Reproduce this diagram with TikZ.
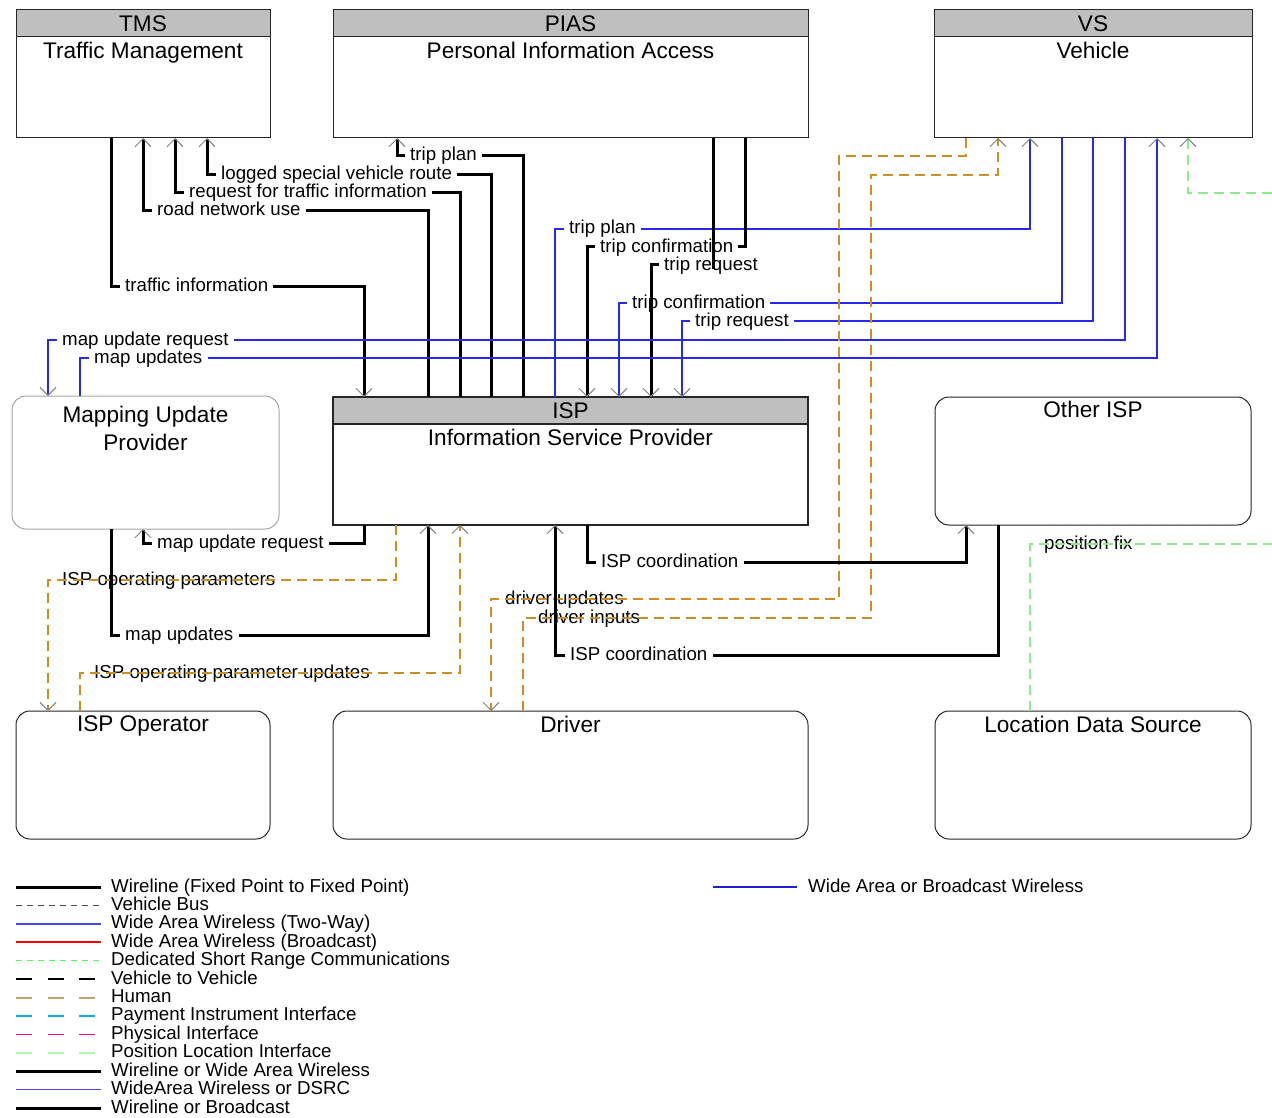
\documentclass[tikz,border=0pt]{standalone}
\usepackage{fontspec}
\setmainfont{Liberation Sans}
\usetikzlibrary{arrows.meta}
\definecolor{wablue}{RGB}{40,40,240}
\definecolor{humanc}{RGB}{204,142,32}
\definecolor{plgreen}{RGB}{140,236,140}
\definecolor{lgblue}{RGB}{70,70,255}
\definecolor{dsrcg}{RGB}{80,250,80}
\definecolor{humlg}{RGB}{196,164,110}
\definecolor{plglg}{RGB}{176,248,176}
\definecolor{wbblue}{RGB}{32,32,208}
\begin{document}
\begin{tikzpicture}[x=1pt,y=-1pt,line join=miter,
  ent/.style={draw=black!85,line width=1pt,anchor=north west,inner sep=0pt,outer sep=0pt},
  hdr/.style={ent,fill=gray!50,minimum height=27,font=\fontsize{22.6}{28}\selectfont},
  rnd/.style={ent,rounded corners=14pt,minimum height=128},
  ttl/.style={font=\fontsize{22.6}{28}\selectfont,anchor=north,inner sep=0pt,align=center},
  lbl/.style={font=\fontsize{18.7}{22}\selectfont,anchor=west,inner xsep=5pt,inner ysep=0pt,text height=13.5pt,text depth=3.5pt},
  wl/.style={line width=3pt},
  wa/.style={wablue,line width=1.2pt},
  hum/.style={humanc,line width=1.3pt,dash pattern=on 10pt off 6pt},
  pli/.style={plgreen,line width=1.3pt,dash pattern=on 10pt off 6pt},
  tohead/.style={-{Straight Barb[length=8pt,width=16pt,line width=1pt,color=gray]}},
  lwl/.style={line width=3pt},
  lvb/.style={black!70,line width=1.2pt,dash pattern=on 6pt off 5pt},
  lwa/.style={lgblue,line width=1.6pt},
  lwb/.style={red,line width=1.6pt},
  lds/.style={dsrcg,line width=1.5pt,dash pattern=on 6pt off 5pt},
  lvv/.style={line width=1.3pt,dash pattern=on 16pt off 15.5pt},
  lhu/.style={humlg,line width=2pt,dash pattern=on 16pt off 15.5pt},
  lpi/.style={cyan,line width=1.5pt,dash pattern=on 16pt off 15.5pt},
  lph/.style={magenta,line width=1.5pt,dash pattern=on 16pt off 15.5pt},
  lpl/.style={plglg,line width=1.5pt,dash pattern=on 16pt off 15.5pt}]
\useasboundingbox (0,0) rectangle (1272,1118);
% entities
\node[hdr,minimum width=254] (TMSh) at (16,10) {TMS};
\node[ent,minimum width=254,minimum height=101] (TMS) at (TMSh.south west) {};
\node[ttl] (TMSt) at ([yshift=-5pt]TMS.north) {Traffic Management};
\node[hdr,minimum width=475] (PIASh) at (333,10) {PIAS};
\node[ent,minimum width=475,minimum height=101] (PIAS) at (PIASh.south west) {};
\node[ttl] (PIASt) at ([yshift=-5pt]PIAS.north) {Personal Information Access};
\node[hdr,minimum width=318] (VSh) at (934,10) {VS};
\node[ent,minimum width=318,minimum height=101] (VS) at (VSh.south west) {};
\node[ttl] (VSt) at ([yshift=-5pt]VS.north) {Vehicle};
\node[rnd,draw=gray!70,minimum width=267,minimum height=133] (MUP) at (12,396) {};
\node[ttl] (MUPt) at ([yshift=-10pt]MUP.north) {Mapping Update\\Provider};
\node[hdr,minimum width=475,line width=2pt] (ISPh) at (333,397) {ISP};
\node[ent,minimum width=475,minimum height=101,line width=2pt] (ISP) at (ISPh.south west) {};
\node[ttl] (ISPt) at ([yshift=-5pt]ISP.north) {Information Service Provider};
\node[rnd,minimum width=316] (OISP) at (935,397) {};
\node[ttl] (OISPt) at ([yshift=-4pt]OISP.north) {Other ISP};
\node[rnd,minimum width=254] (ISPO) at (16,711) {};
\node[ttl] (ISPOt) at ([yshift=-5pt]ISPO.north) {ISP Operator};
\node[rnd,minimum width=475] (DRV) at (333,711) {};
\node[ttl] (DRVt) at ([yshift=-5pt]DRV.north) {Driver};
\node[rnd,minimum width=316] (LDS) at (935,711) {};
\node[ttl] (LDSt) at ([yshift=-5pt]LDS.north) {Location Data Source};
% flow labels
\node[lbl] (tiL) at (120,286) {traffic information};
\node[lbl] (rnuL) at (152,211) {road network use};
\node[lbl] (rftL) at (184,193) {request for traffic information};
\node[lbl] (lsvL) at (216,175) {logged special vehicle route};
\node[lbl] (tpL) at (405,156) {trip plan};
\node[lbl] (tp2L) at (564,229) {trip plan};
\node[lbl] (tcL) at (595,247) {trip confirmation};
\node[lbl] (trL) at (659,265) {trip request};
\node[lbl] (tc2L) at (627,303) {trip confirmation};
\node[lbl] (tr2L) at (690,321) {trip request};
\node[lbl] (murL) at (57,340) {map update request};
\node[lbl] (muL) at (89,358) {map updates};
\node[lbl] (mur2L) at (152,543) {map update request};
\node[lbl] (iopL) at (57,580) {ISP operating parameters};
\node[lbl] (mu2L) at (120,635) {map updates};
\node[lbl] (iopuL) at (89,673) {ISP operating parameter updates};
\node[lbl] (ic1L) at (596,562) {ISP coordination};
\node[lbl] (duL) at (500,599) {driver updates};
\node[lbl] (diL) at (533,618) {driver inputs};
\node[lbl] (ic2L) at (565,655) {ISP coordination};
\node[lbl] (pfL) at (1039,544) {position fix};
\coordinate (pfOut) at (1272,544);
\coordinate (pfIn) at (1272,193);
% flows
\draw[wl] (111,0 |- TMS.south) |- (tiL.west);
\draw[wl,tohead] (tiL.east) -| (364,0 |- ISPh.north);
\draw[wl] (428,0 |- ISPh.north) |- (rnuL.east);
\draw[wl,tohead] (rnuL.west) -| (143,0 |- TMS.south);
\draw[wl] (460,0 |- ISPh.north) |- (rftL.east);
\draw[wl,tohead] (rftL.west) -| (175,0 |- TMS.south);
\draw[wl] (491,0 |- ISPh.north) |- (lsvL.east);
\draw[wl,tohead] (lsvL.west) -| (207,0 |- TMS.south);
\draw[wl] (523,0 |- ISPh.north) |- (tpL.east);
\draw[wl,tohead] (tpL.west) -| (397,0 |- PIAS.south);
\draw[wa] (555,0 |- ISPh.north) |- (tp2L.west);
\draw[wa,tohead] (tp2L.east) -| (1030,0 |- VS.south);
\draw[wl] (745,0 |- PIAS.south) |- (tcL.east);
\draw[wl,tohead] (tcL.west) -| (587,0 |- ISPh.north);
\draw[wl] (713,0 |- PIAS.south) -- ([yshift=-4pt]713,0 |- trL.center);
\draw[wl,tohead] (trL.west) -| (651,0 |- ISPh.north);
\draw[wa] (1062,0 |- VS.south) |- (tc2L.east);
\draw[wa,tohead] (tc2L.west) -| (619,0 |- ISPh.north);
\draw[wa] (1093,0 |- VS.south) |- (tr2L.east);
\draw[wa,tohead] (tr2L.west) -| (682,0 |- ISPh.north);
\draw[wa] (1125,0 |- VS.south) |- (murL.east);
\draw[wa,tohead] (murL.west) -| (48,0 |- MUP.north);
\draw[wa] (80,0 |- MUP.north) |- (muL.west);
\draw[wa,tohead] (muL.east) -| (1157,0 |- VS.south);
\draw[hum,tohead] (966,0 |- VS.south) |- (839,156) |- (duL.east) -- (duL.west) -| (491,0 |- DRV.north);
\draw[hum,tohead] (523,0 |- DRV.north) |- (diL.west) -- (diL.east) -| (871,175) -| (998,0 |- VS.south);
\draw[pli,tohead] (pfIn) -| (1188,0 |- VS.south);
\draw[wl] (364,0 |- ISP.south) |- (mur2L.east);
\draw[wl,tohead] (mur2L.west) -| (143,0 |- MUP.south);
\draw[hum,tohead] (396,0 |- ISP.south) |- (iopL.east) -- (iopL.west) -| (48,0 |- ISPO.north);
\draw[wl] (111,0 |- MUP.south) |- (mu2L.west);
\draw[wl,tohead] (mu2L.east) -| (428,0 |- ISP.south);
\draw[hum,tohead] (80,0 |- ISPO.north) |- (iopuL.west) -- (iopuL.east) -| (460,0 |- ISP.south);
\draw[wl] (587,0 |- ISP.south) |- (ic1L.west);
\draw[wl,tohead] (ic1L.east) -| (966,0 |- OISP.south);
\draw[wl] (998,0 |- OISP.south) |- (ic2L.east);
\draw[wl,tohead] (ic2L.west) -| (555,0 |- ISP.south);
\draw[pli] (1030,0 |- LDS.north) |- (pfL.west) -- (pfL.east) -- (pfOut);
% legend
\foreach \s/\t [count=\i from 0] in {lwl/Wireline (Fixed Point to Fixed Point),lvb/Vehicle Bus,lwa/Wide Area Wireless (Two-Way),lwb/Wide Area Wireless (Broadcast),lds/Dedicated Short Range Communications,lvv/Vehicle to Vehicle,lhu/Human,lpi/Payment Instrument Interface,lph/Physical Interface,lpl/Position Location Interface,lwl/Wireline or Wide Area Wireless,lwa/WideArea Wireless or DSRC,lwl/Wireline or Broadcast}{
  \draw[\s] (16,887+18.42*\i) -- (101,887+18.42*\i);
  \node[lbl,inner xsep=0pt] (lg\i) at (111,887+18.42*\i) {\t};
}
\draw[wbblue,line width=1.2pt] (713,887) -- (797,887);
\node[lbl,inner xsep=0pt] (lgR) at (808,887) {Wide Area or Broadcast Wireless};
\end{tikzpicture}
\end{document}
